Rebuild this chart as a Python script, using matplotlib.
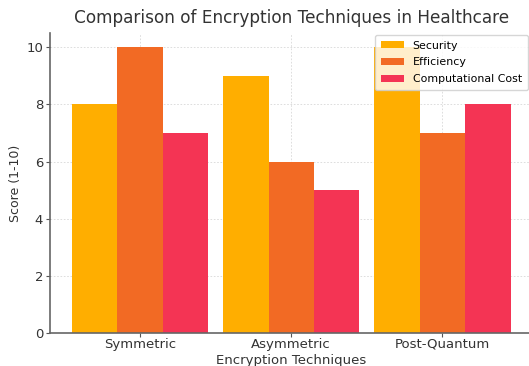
import numpy as np
import matplotlib
matplotlib.use("Agg")
import matplotlib.pyplot as plt

# Scores per technique
techniques = ["Symmetric", "Asymmetric", "Post-Quantum"]
security = [8, 9, 10]
efficiency = [10, 6, 7]
comp_cost = [7, 5, 8]

fig = plt.figure(figsize=(5.29, 3.66), dpi=100)
ax = fig.add_axes((0.0945, 0.09, 0.912, 0.82))

x = np.arange(len(techniques))
w = 0.3
ax.bar(x - w, security, w, color="#FFAE00", label="Security", zorder=2)
ax.bar(x, efficiency, w, color="#F26A24", label="Efficiency", zorder=2)
ax.bar(x + w, comp_cost, w, color="#F43454", label="Computational Cost", zorder=2)

ax.set_xticks(x)
ax.set_xticklabels(techniques, fontsize=9.5, color="#333333")
ax.tick_params(axis="y", labelsize=9.5, labelcolor="#333333")
ax.tick_params(length=3, pad=2, color="#555555")
ax.tick_params(axis="x", pad=0.5)
ax.set_ylim(0, 10.5)
ax.set_yticks([0, 2, 4, 6, 8, 10])
ax.grid(True, linestyle=(0, (2, 2)), color="#d8d8d8", linewidth=0.6, zorder=0)
for s in ["top", "right"]:
    ax.spines[s].set_visible(False)
for s in ["left", "bottom"]:
    ax.spines[s].set_color("#666666")
    ax.spines[s].set_linewidth(1.2)

ax.set_title("Comparison of Encryption Techniques in Healthcare", fontsize=12.2, color="#333333", pad=7)
ax.set_xlabel("Encryption Techniques", fontsize=9.5, labelpad=2, color="#333333")
ax.set_ylabel("Score (1-10)", fontsize=9, color="#333333", labelpad=3)
ax.legend(loc="upper right", bbox_to_anchor=(0.998, 0.905), bbox_transform=fig.transFigure,
          borderaxespad=0, fontsize=7.9, framealpha=0.8, handlelength=2.1, handleheight=0.6,
          borderpad=0.55, labelspacing=0.6)

fig.savefig("out.png", dpi=100)
